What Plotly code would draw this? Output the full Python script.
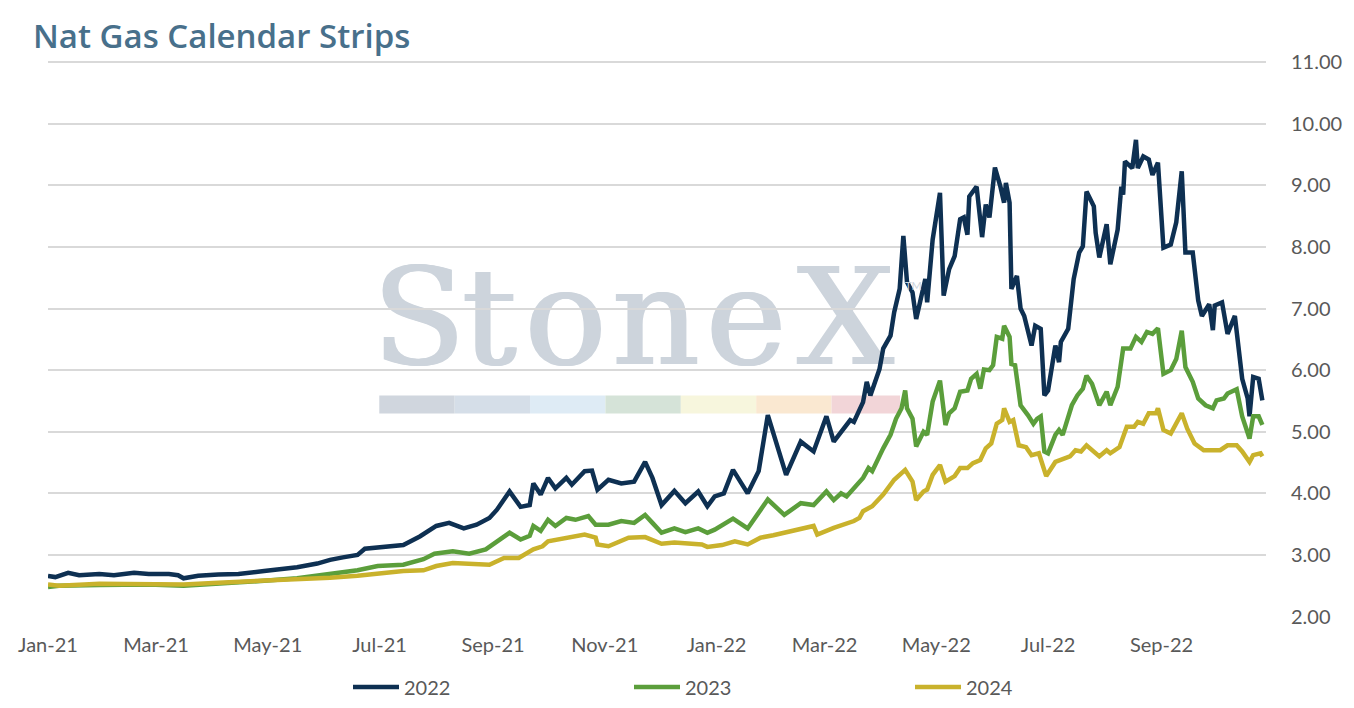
import plotly.graph_objects as go

# ---- data ----
DATES_2022 = [
    "2021-01-01", "2021-01-05", "2021-01-12", "2021-01-18", "2021-01-29", "2021-02-06", "2021-02-17",
    "2021-02-25", "2021-03-08", "2021-03-13", "2021-03-16", "2021-03-24", "2021-04-04", "2021-04-15",
    "2021-04-29", "2021-05-17", "2021-05-28", "2021-06-04", "2021-06-11", "2021-06-19", "2021-06-23",
    "2021-07-02", "2021-07-14", "2021-07-23", "2021-08-01", "2021-08-08", "2021-08-16", "2021-08-23",
    "2021-08-30", "2021-09-03", "2021-09-10", "2021-09-16", "2021-09-21", "2021-09-23", "2021-09-27",
    "2021-10-01", "2021-10-05", "2021-10-11", "2021-10-14", "2021-10-21", "2021-10-25", "2021-10-28",
    "2021-11-03", "2021-11-10", "2021-11-17", "2021-11-23", "2021-11-27", "2021-12-02", "2021-12-09",
    "2021-12-15", "2021-12-22", "2021-12-27", "2021-12-31", "2022-01-05", "2022-01-10", "2022-01-18",
    "2022-01-24", "2022-01-29", "2022-02-08", "2022-02-16", "2022-02-23", "2022-03-02", "2022-03-06",
    "2022-03-15", "2022-03-17", "2022-03-22", "2022-03-24", "2022-03-26", "2022-03-31", "2022-04-02",
    "2022-04-06", "2022-04-08", "2022-04-11", "2022-04-13", "2022-04-15", "2022-04-18", "2022-04-20",
    "2022-04-25", "2022-04-26", "2022-04-29", "2022-05-03", "2022-05-05", "2022-05-08", "2022-05-11",
    "2022-05-14", "2022-05-16", "2022-05-18", "2022-05-19", "2022-05-23", "2022-05-26", "2022-05-28",
    "2022-05-30", "2022-06-02", "2022-06-05", "2022-06-07", "2022-06-08", "2022-06-10", "2022-06-11",
    "2022-06-14", "2022-06-16", "2022-06-18", "2022-06-22", "2022-06-24", "2022-06-27", "2022-06-29",
    "2022-07-01", "2022-07-05", "2022-07-07", "2022-07-08", "2022-07-12", "2022-07-15", "2022-07-18",
    "2022-07-20", "2022-07-22", "2022-07-26", "2022-07-27", "2022-07-29", "2022-08-02", "2022-08-04",
    "2022-08-08", "2022-08-10", "2022-08-11", "2022-08-12", "2022-08-16", "2022-08-18", "2022-08-19",
    "2022-08-22", "2022-08-25", "2022-08-27", "2022-08-30", "2022-09-02", "2022-09-06", "2022-09-09",
    "2022-09-12", "2022-09-14", "2022-09-18", "2022-09-21", "2022-09-23", "2022-09-27", "2022-09-29",
    "2022-09-30", "2022-10-04", "2022-10-07", "2022-10-11", "2022-10-13", "2022-10-15", "2022-10-18",
    "2022-10-19", "2022-10-21", "2022-10-24", "2022-10-26",
]
VALUES_2022 = [
    2.66, 2.64, 2.71, 2.67, 2.69, 2.67, 2.71,
    2.69, 2.69, 2.67, 2.62, 2.66, 2.68, 2.69,
    2.74, 2.80, 2.86, 2.92, 2.96, 3.00, 3.10,
    3.13, 3.16, 3.30, 3.47, 3.52, 3.43, 3.49,
    3.60, 3.73, 4.03, 3.78, 3.81, 4.16, 3.98,
    4.25, 4.08, 4.25, 4.14, 4.36, 4.37, 4.06,
    4.22, 4.16, 4.19, 4.51, 4.25, 3.81, 4.04,
    3.84, 4.03, 3.79, 3.95, 4.00, 4.38, 4.00,
    4.36, 5.27, 4.30, 4.84, 4.68, 5.25, 4.84,
    5.19, 5.16, 5.48, 5.81, 5.59, 6.02, 6.35,
    6.56, 6.94, 7.32, 8.18, 7.43, 7.26, 6.83,
    7.48, 7.10, 8.12, 8.88, 7.21, 7.64, 7.85,
    8.45, 8.48, 8.20, 8.82, 8.98, 8.16, 8.69,
    8.48, 9.29, 8.98, 8.72, 9.04, 8.72, 7.32,
    7.53, 7.00, 6.88, 6.40, 6.72, 6.67, 5.59,
    5.67, 6.40, 6.13, 6.46, 6.67, 7.48, 7.91,
    8.01, 8.90, 8.66, 8.23, 7.83, 8.37, 7.72,
    8.28, 8.98, 8.85, 9.39, 9.28, 9.74, 9.28,
    9.47, 9.42, 9.17, 9.37, 7.99, 8.04, 8.40,
    9.23, 7.91, 7.91, 7.13, 6.88, 7.07, 6.65,
    7.05, 7.10, 6.59, 6.88, 6.29, 5.86, 5.54,
    5.25, 5.89, 5.86, 5.51,
]

DATES_2023 = [
    "2021-01-01", "2021-01-07", "2021-01-29", "2021-02-25", "2021-03-16", "2021-04-04", "2021-04-11",
    "2021-04-29", "2021-05-17", "2021-06-04", "2021-06-19", "2021-06-30", "2021-07-14", "2021-07-25",
    "2021-07-31", "2021-08-10", "2021-08-19", "2021-08-28", "2021-09-04", "2021-09-10", "2021-09-16",
    "2021-09-21", "2021-09-23", "2021-09-27", "2021-10-01", "2021-10-05", "2021-10-11", "2021-10-16",
    "2021-10-23", "2021-10-27", "2021-11-03", "2021-11-10", "2021-11-17", "2021-11-23", "2021-11-27",
    "2021-12-02", "2021-12-09", "2021-12-15", "2021-12-22", "2021-12-27", "2021-12-31", "2022-01-10",
    "2022-01-18", "2022-01-24", "2022-01-29", "2022-02-07", "2022-02-16", "2022-02-23", "2022-03-02",
    "2022-03-06", "2022-03-10", "2022-03-13", "2022-03-17", "2022-03-22", "2022-03-25", "2022-03-27",
    "2022-04-02", "2022-04-06", "2022-04-09", "2022-04-12", "2022-04-14", "2022-04-15", "2022-04-18",
    "2022-04-20", "2022-04-24", "2022-04-26", "2022-04-29", "2022-05-03", "2022-05-06", "2022-05-08",
    "2022-05-11", "2022-05-14", "2022-05-18", "2022-05-20", "2022-05-23", "2022-05-25", "2022-05-27",
    "2022-05-30", "2022-06-01", "2022-06-03", "2022-06-06", "2022-06-07", "2022-06-10", "2022-06-11",
    "2022-06-13", "2022-06-16", "2022-06-20", "2022-06-23", "2022-06-25", "2022-06-27", "2022-06-29",
    "2022-07-01", "2022-07-05", "2022-07-07", "2022-07-09", "2022-07-14", "2022-07-17", "2022-07-20",
    "2022-07-22", "2022-07-25", "2022-07-29", "2022-08-02", "2022-08-04", "2022-08-08", "2022-08-11",
    "2022-08-15", "2022-08-18", "2022-08-21", "2022-08-24", "2022-08-27", "2022-08-30", "2022-09-02",
    "2022-09-06", "2022-09-09", "2022-09-12", "2022-09-14", "2022-09-18", "2022-09-21", "2022-09-25",
    "2022-09-29", "2022-10-01", "2022-10-05", "2022-10-07", "2022-10-12", "2022-10-15", "2022-10-19",
    "2022-10-21", "2022-10-24", "2022-10-26",
]
VALUES_2023 = [
    2.48, 2.50, 2.51, 2.52, 2.50, 2.53, 2.55,
    2.58, 2.62, 2.70, 2.75, 2.82, 2.84, 2.93,
    3.02, 3.06, 3.02, 3.09, 3.23, 3.36, 3.25,
    3.31, 3.47, 3.39, 3.57, 3.47, 3.60, 3.57,
    3.63, 3.49, 3.49, 3.55, 3.52, 3.65, 3.52,
    3.36, 3.43, 3.37, 3.43, 3.36, 3.41, 3.59,
    3.43, 3.68, 3.90, 3.65, 3.84, 3.81, 4.03,
    3.89, 4.00, 3.95, 4.08, 4.25, 4.41, 4.36,
    4.73, 4.95, 5.21, 5.38, 5.67, 5.38, 5.21,
    4.76, 5.00, 4.95, 5.49, 5.83, 5.11, 5.30,
    5.38, 5.65, 5.67, 5.86, 5.94, 5.70, 6.01,
    6.00, 6.08, 6.54, 6.51, 6.72, 6.54, 6.10,
    6.08, 5.43, 5.27, 5.13, 5.21, 5.25, 4.68,
    4.65, 4.95, 5.03, 4.95, 5.43, 5.59, 5.70,
    5.91, 5.78, 5.43, 5.65, 5.43, 5.73, 6.35,
    6.35, 6.54, 6.46, 6.62, 6.59, 6.68, 5.94,
    6.00, 6.18, 6.64, 6.05, 5.81, 5.54, 5.43,
    5.38, 5.51, 5.54, 5.62, 5.69, 5.25, 4.89,
    5.25, 5.25, 5.11,
]

DATES_2024 = [
    "2021-01-01", "2021-01-07", "2021-01-29", "2021-02-25", "2021-03-16", "2021-04-04", "2021-04-29",
    "2021-05-17", "2021-06-04", "2021-06-19", "2021-06-30", "2021-07-14", "2021-07-25", "2021-08-01",
    "2021-08-10", "2021-08-19", "2021-08-30", "2021-09-07", "2021-09-15", "2021-09-23", "2021-09-28",
    "2021-10-01", "2021-10-11", "2021-10-21", "2021-10-27", "2021-10-28", "2021-11-03", "2021-11-14",
    "2021-11-23", "2021-12-02", "2021-12-09", "2021-12-16", "2021-12-24", "2021-12-27", "2022-01-04",
    "2022-01-11", "2022-01-18", "2022-01-25", "2022-02-01", "2022-02-23", "2022-02-25", "2022-03-06",
    "2022-03-17", "2022-03-20", "2022-03-22", "2022-03-27", "2022-04-02", "2022-04-08", "2022-04-14",
    "2022-04-18", "2022-04-20", "2022-04-24", "2022-04-26", "2022-04-29", "2022-05-03", "2022-05-06",
    "2022-05-11", "2022-05-14", "2022-05-18", "2022-05-21", "2022-05-25", "2022-05-28", "2022-05-31",
    "2022-06-03", "2022-06-06", "2022-06-07", "2022-06-10", "2022-06-12", "2022-06-15", "2022-06-19",
    "2022-06-22", "2022-06-26", "2022-06-29", "2022-06-30", "2022-07-05", "2022-07-08", "2022-07-13",
    "2022-07-16", "2022-07-19", "2022-07-22", "2022-07-29", "2022-08-02", "2022-08-04", "2022-08-09",
    "2022-08-13", "2022-08-17", "2022-08-19", "2022-08-22", "2022-08-25", "2022-08-29", "2022-08-30",
    "2022-09-02", "2022-09-06", "2022-09-12", "2022-09-15", "2022-09-19", "2022-09-24", "2022-09-29",
    "2022-10-03", "2022-10-07", "2022-10-12", "2022-10-15", "2022-10-19", "2022-10-21", "2022-10-25",
    "2022-10-26",
]
VALUES_2024 = [
    2.52, 2.50, 2.53, 2.53, 2.52, 2.55, 2.58,
    2.61, 2.63, 2.66, 2.69, 2.74, 2.75, 2.82,
    2.87, 2.86, 2.84, 2.95, 2.95, 3.09, 3.14,
    3.22, 3.28, 3.33, 3.28, 3.17, 3.14, 3.28,
    3.29, 3.18, 3.20, 3.18, 3.17, 3.13, 3.16,
    3.22, 3.17, 3.28, 3.32, 3.47, 3.33, 3.44,
    3.55, 3.60, 3.71, 3.79, 3.98, 4.22, 4.38,
    4.19, 3.89, 4.03, 4.06, 4.30, 4.46, 4.19,
    4.28, 4.41, 4.41, 4.49, 4.54, 4.73, 4.81,
    5.13, 5.19, 5.38, 5.16, 5.19, 4.78, 4.75,
    4.62, 4.65, 4.38, 4.28, 4.51, 4.54, 4.60,
    4.70, 4.68, 4.78, 4.60, 4.70, 4.65, 4.75,
    5.08, 5.08, 5.16, 5.13, 5.30, 5.30, 5.38,
    5.03, 4.97, 5.30, 5.05, 4.81, 4.70, 4.70,
    4.70, 4.78, 4.78, 4.68, 4.51, 4.62, 4.65,
    4.60,
]

SERIES_NAMES = ["2022", "2023", "2024"]
SERIES_COLORS = ["#0e3052", "#5b9e3b", "#c9b22c"]

TITLE = "Nat Gas Calendar Strips"
Y_TICKS = [2, 3, 4, 5, 6, 7, 8, 9, 10, 11]

# watermark pieces
WATERMARK_LETTERS = ["S", "t", "o", "n", "e", "X"]
WATERMARK_CENTERS = [422, 493, 570, 661, 752, 852]   # px
WATERMARK_COLOR = "#cdd4dc"
STRIP_EDGES = [382, 458, 534, 610, 686, 762, 838, 907]  # px
STRIP_COLORS = ["#d0d6de", "#d5dee8", "#deebf5", "#d5e3d8", "#f7f6dd", "#fae8d1", "#f2d5d8"]

# plot area in pixels (1354 x 708 page)
W, H = 1354, 708
L, R, T, B = 48, 1276, 61, 619
Y_RANGE = [2, 11.02]


def px_x(px):
    return (px - L) / (R - L)


def px_y(py):
    return (B - py) / (B - T)


fig = go.Figure()

all_dates = [DATES_2022, DATES_2023, DATES_2024]
all_values = [VALUES_2022, VALUES_2023, VALUES_2024]
for name, color, xs, ys in zip(SERIES_NAMES, SERIES_COLORS, all_dates, all_values):
    fig.add_trace(go.Scatter(
        x=xs, y=ys, name=name, mode="lines",
        line=dict(color=color, width=4.5),
    ))

# thicken the serif strokes a little, like the logo
heavy = "1.5px 0px 0px {0}, -1.5px 0px 0px {0}".format(WATERMARK_COLOR)

shapes = []
for letter, cx in zip(WATERMARK_LETTERS, WATERMARK_CENTERS):
    shapes.append(dict(
        type="rect", xref="paper", yref="paper", layer="below",
        x0=px_x(cx - 60), x1=px_x(cx + 60), y0=px_y(374), y1=px_y(244),
        line=dict(width=0), fillcolor="rgba(0,0,0,0)",
        label=dict(text=letter, textposition="middle center",
                   font=dict(family="DejaVu Serif", size=135, color=WATERMARK_COLOR,
                             shadow=heavy)),
    ))
for i, col in enumerate(STRIP_COLORS):
    shapes.append(dict(
        type="rect", xref="paper", yref="paper", layer="below",
        x0=px_x(STRIP_EDGES[i]), x1=px_x(STRIP_EDGES[i + 1]),
        y0=px_y(415), y1=px_y(397),
        line=dict(width=0), fillcolor=col,
    ))

fig.update_layout(
    width=W, height=H,
    margin=dict(l=L, r=W - R, t=T, b=H - B),
    paper_bgcolor="white", plot_bgcolor="white",
    font=dict(family="Lato", color="#595959", size=20),
    title=dict(text=TITLE, xref="container", yref="container",
               x=33 / W, xanchor="left", y=1 - 36 / H, yanchor="middle",
               font=dict(family="Open Sans", size=33, color="#48708b", weight=600)),
    shapes=shapes,
    showlegend=True,
    legend=dict(orientation="h", xref="container", yref="container",
                x=348 / W, xanchor="left", y=1 - 687 / H, yanchor="middle",
                entrywidth=220, entrywidthmode="pixels", itemwidth=46,
                font=dict(size=20, color="#595959"), bgcolor="rgba(0,0,0,0)"),
    annotations=[dict(text="TM", xref="paper", yref="paper", x=px_x(931), y=px_y(287),
                      showarrow=False, font=dict(size=11, color=WATERMARK_COLOR))],
)

fig.update_xaxes(
    type="date", range=["2021-01-01", "2022-10-28"],
    tick0="2021-01-01", dtick="M2", tickformat="%b-%y",
    showgrid=False, zeroline=False, showline=False, ticks="",
    ticklabelstandoff=14, tickfont=dict(size=20, color="#595959"),
)
fig.update_yaxes(
    side="right", range=Y_RANGE, tickvals=Y_TICKS, tickformat=".2f",
    showgrid=True, gridcolor="#d9d9d9", gridwidth=2,
    zeroline=False, showline=False, ticks="",
    ticklabelstandoff=24, tickfont=dict(size=20, color="#595959"),
)

# the page body has an 8px default margin; drop it so the figure fills the window
fig.write_html("out.html", config={"displayModeBar": False},
               post_script="document.body.style.margin='0px';")
